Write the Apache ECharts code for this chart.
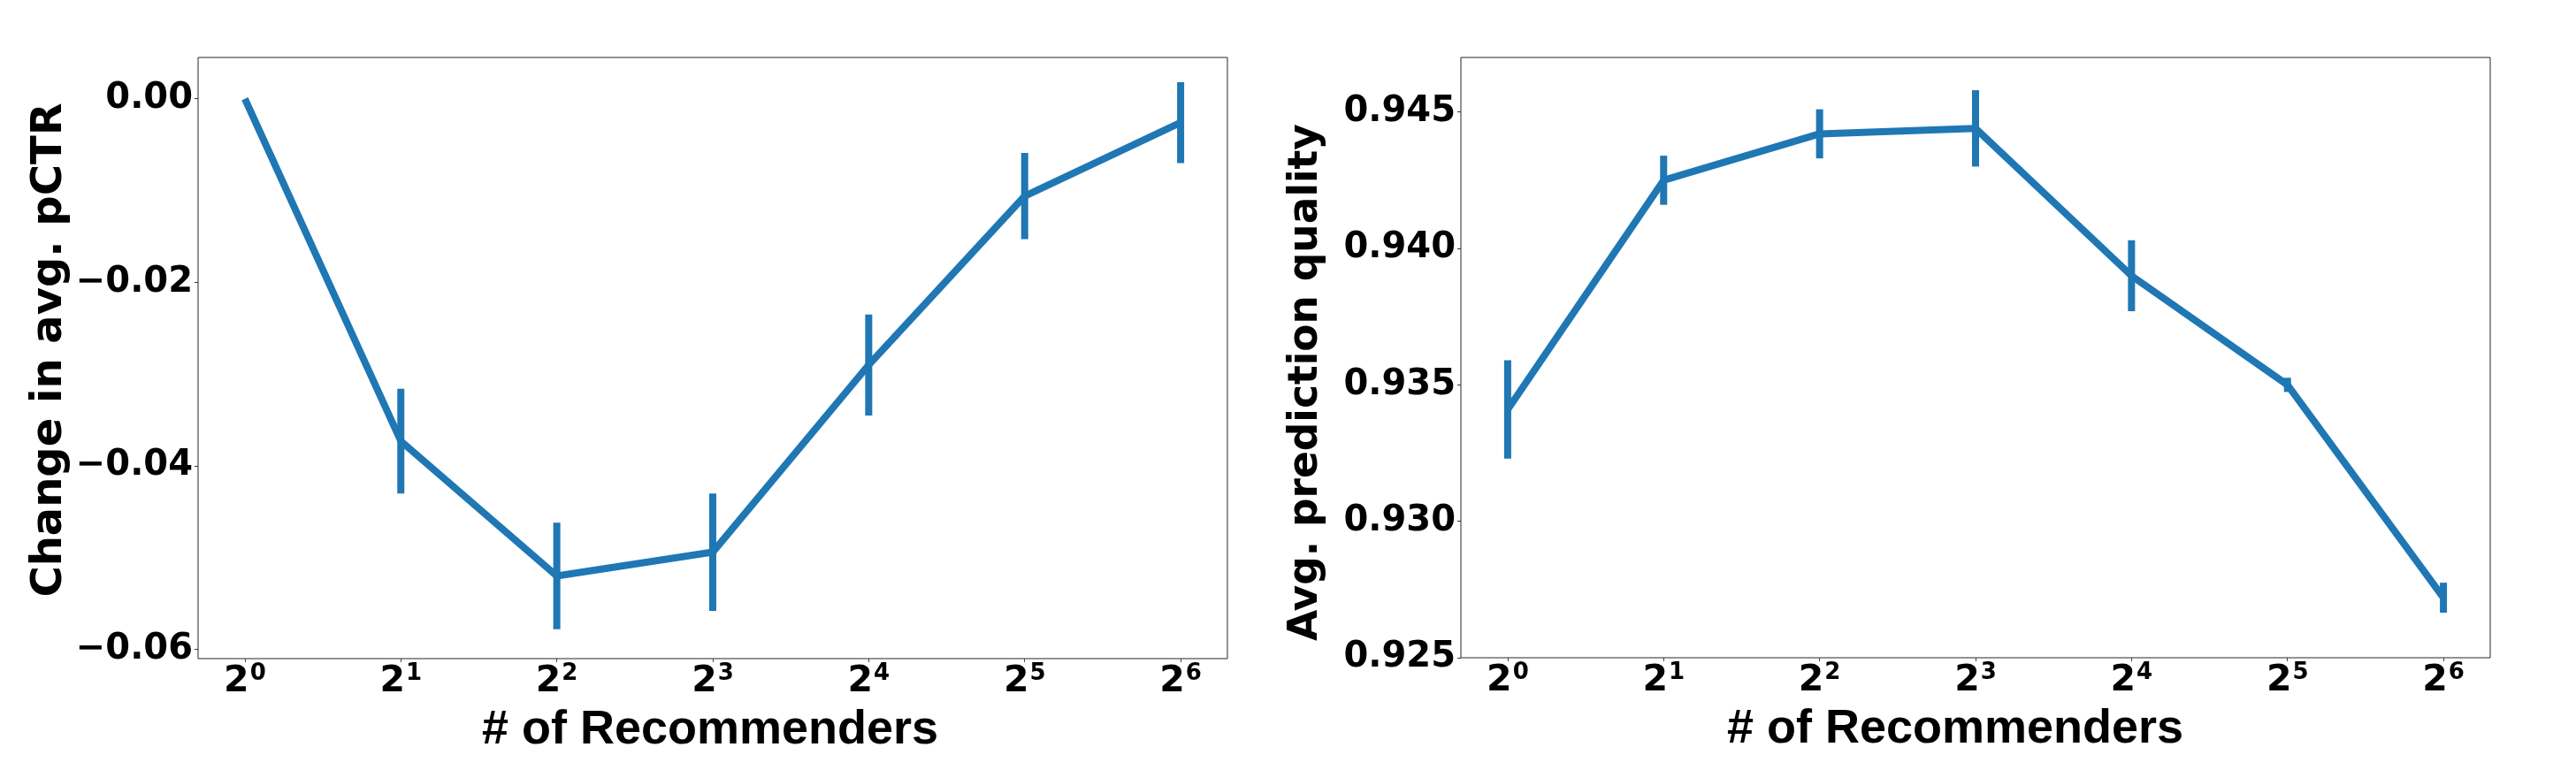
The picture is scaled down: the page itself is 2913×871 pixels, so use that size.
<!DOCTYPE html>
<html>
<head>
<meta charset="utf-8">
<script src="https://cdn.jsdelivr.net/npm/echarts@6/dist/echarts.min.js"></script>
<style>
html,body{margin:0;padding:0;background:#fff;}
#chart{width:2913px;height:871px;}
</style>
</head>
<body>
<div id="chart"></div>
<script>
// ---- data ----
var exponents = [0, 1, 2, 3, 4, 5, 6];            // x = 2^exponent recommenders
var pctrChange = [0.0000, -0.0373, -0.0520, -0.0494, -0.0290, -0.0106, -0.0026];
var pctrErr    = [0.0000, 0.0057, 0.0058, 0.0064, 0.0055, 0.0047, 0.0044];
var quality    = [0.9341, 0.9425, 0.9442, 0.9444, 0.9390, 0.9350, 0.9272];
var qualityErr = [0.0018, 0.0009, 0.0009, 0.0014, 0.0013, 0.00026, 0.00055];
var leftYTicks  = [-0.06, -0.04, -0.02, 0.00];
var rightYTicks = [0.925, 0.930, 0.935, 0.940, 0.945];
var xLabel = '# of Recommenders';
var leftYLabel = 'Change in avg. pCTR';
var rightYLabel = 'Avg. prediction quality';

// ---- build ----
var COLOR = '#1f77b4';
var TICK_FONT = 'DejaVu Sans';
function pairs(xs, ys){ return xs.map(function(x,i){ return [x, ys[i]]; }); }
function errData(xs, ys, es){ return xs.map(function(x,i){ return [x, ys[i]-es[i], ys[i]+es[i]]; }); }
function fmtMinus(s){ return s.replace('-', '\u2212'); }

function errRender(params, api){
  var x = api.value(0), lo = api.value(1), hi = api.value(2);
  var p1 = api.coord([x, lo]), p2 = api.coord([x, hi]);
  return {type:'line', shape:{x1:p1[0], y1:p1[1], x2:p2[0], y2:p2[1]},
          style:{stroke:COLOR, lineWidth:8}};
}

function xAxisCfg(gridIndex, padRight){
  return {
    type:'value', gridIndex:gridIndex, min:-0.3, max:6.3, position:'bottom',
    splitLine:{show:false}, axisLine:{show:false, onZero:false},
    axisTick:{show:true, customValues:exponents, length:4, lineStyle:{color:'#444', width:1}},
    axisLabel:{
      customValues:exponents, margin:4,
      formatter:function(v){ return '{b|2}{s|' + v + '}'; },
      rich:{
        b:{fontFamily:TICK_FONT, fontWeight:'bold', fontSize:41, color:'#000', lineHeight:44, verticalAlign:'top', padding:[2,0,0,0]},
        s:{fontFamily:TICK_FONT, fontWeight:'bold', fontSize:26, color:'#000', lineHeight:24, verticalAlign:'top', padding:[0,0,0,1]}
      }
    },
    name:xLabel, nameLocation:'middle', nameGap:81,
    nameTextStyle:{fontFamily:'Liberation Sans', fontWeight:'bold', fontSize:54, color:'#000',
                   verticalAlign:'middle', lineHeight:54, padding:[0,padRight,0,0]}
  };
}

function yAxisCfg(gridIndex, min, max, ticks, dec, name, gap, pad, nameSize){
  return {
    type:'value', gridIndex:gridIndex, min:min, max:max, position:'left',
    splitLine:{show:false}, axisLine:{show:false, onZero:false},
    axisTick:{show:true, customValues:ticks, length:4, lineStyle:{color:'#333', width:1}},
    axisLabel:{
      customValues:ticks, margin:6,
      fontFamily:TICK_FONT, fontWeight:'bold', fontSize:40, color:'#000',
      formatter:function(v){ return fmtMinus(Number(v).toFixed(dec)); }
    },
    name:name, nameLocation:'middle', nameGap:gap, nameRotate:90,
    nameTextStyle:{fontFamily:'DejaVu Sans', fontWeight:'bold', fontSize:nameSize, color:'#000',
                   verticalAlign:'middle', lineHeight:nameSize, padding:pad}
  };
}

var chart = echarts.init(document.getElementById('chart'), null, {renderer:'canvas'});
chart.setOption({
  animation:false,
  backgroundColor:'#fff',
  grid:[
    {left:224, top:65, width:1164, height:680, show:true, borderColor:'#262626', borderWidth:1, backgroundColor:'#fff', containLabel:false},
    {left:1652, top:65, width:1164, height:679, show:true, borderColor:'#262626', borderWidth:1, backgroundColor:'#fff', containLabel:false}
  ],
  xAxis:[ xAxisCfg(0, 6), xAxisCfg(1, 46) ],
  yAxis:[
    yAxisCfg(0, -0.061, 0.0045, leftYTicks, 2, leftYLabel, 167, [0,0,0,18], 48),
    yAxisCfg(1, 0.925, 0.947, rightYTicks, 3, rightYLabel, 175, [0,56,0,0], 45.5)
  ],
  series:[
    {type:'line', xAxisIndex:0, yAxisIndex:0, data:pairs(exponents, pctrChange),
     symbol:'none', lineStyle:{color:COLOR, width:8}, z:3},
    {type:'custom', xAxisIndex:0, yAxisIndex:0, data:errData(exponents, pctrChange, pctrErr),
     renderItem:errRender, encode:{x:0, y:[1,2]}, z:4},
    {type:'line', xAxisIndex:1, yAxisIndex:1, data:pairs(exponents, quality),
     symbol:'none', lineStyle:{color:COLOR, width:8}, z:3},
    {type:'custom', xAxisIndex:1, yAxisIndex:1, data:errData(exponents, quality, qualityErr),
     renderItem:errRender, encode:{x:0, y:[1,2]}, z:4}
  ]
});
</script>
</body>
</html>
